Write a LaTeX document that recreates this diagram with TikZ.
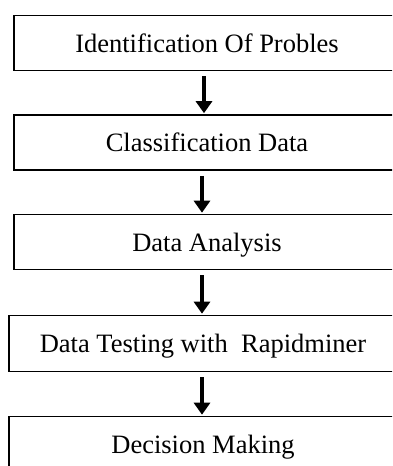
\documentclass[tikz,border=0pt]{standalone}
\usepackage{fontspec}
\setmainfont{Liberation Serif}
\usetikzlibrary{arrows.meta, positioning}

\begin{document}
\begin{tikzpicture}[x=1pt, y=-1pt, node distance=99.5pt, >={Triangle[width=16pt,length=12pt]}]
  \tikzstyle{block} = [draw, rectangle, line width=1.6pt, minimum height=55pt, minimum width=386pt, font=\fontsize{26.5}{30}\selectfont, text height=18pt, text depth=0pt]
  \tikzstyle{flow} = [->, line width=4pt, shorten <=5pt, shorten >=1pt]
  \useasboundingbox (0,0) rectangle (392,466);
  \clip (0,0) rectangle (392,466);
  \node [block] (ident) at (207,43) {Identification Of Probles};
  \node [block, below of=ident] (classif) {Classification Data};
  \node [block, below of=classif] (analysis) {Data Analysis};
  \node [block, below of=analysis, yshift=-2pt, xshift=-4pt, minimum width=388pt, minimum height=56pt] (testing) {Data Testing with\ \ Rapidminer};
  \node [block, below of=testing, yshift=-1.5pt, minimum width=388pt, minimum height=56pt] (decision) {Decision Making};

  \draw [flow] ([xshift=-3pt]ident.south) -- ([xshift=-3pt]ident.south |- classif.north);
  \draw [flow] ([xshift=-5pt]classif.south) -- ([xshift=-5pt]classif.south |- analysis.north);
  \draw [flow] ([xshift=-5pt]analysis.south) -- ([xshift=-5pt]analysis.south |- testing.north);
  \draw [flow] ([xshift=-1pt]testing.south) -- ([xshift=-1pt]testing.south |- decision.north);
\end{tikzpicture}
\end{document}
